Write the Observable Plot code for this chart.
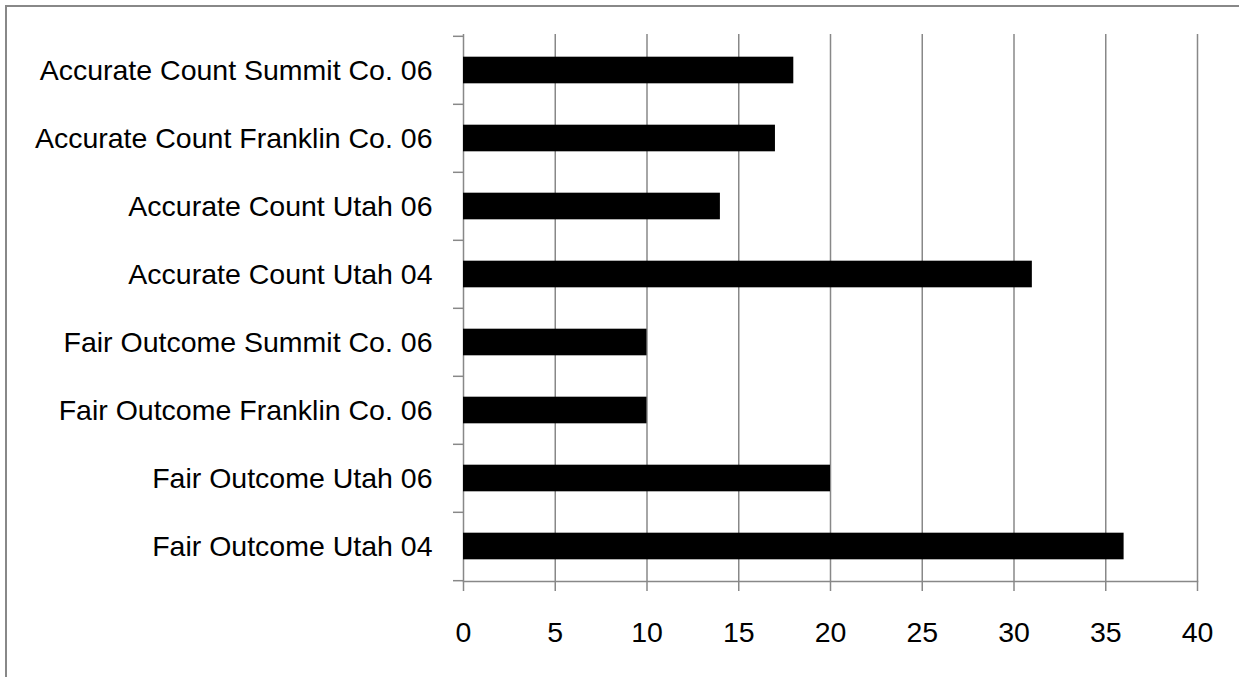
<!DOCTYPE html>
<html>
<head>
<meta charset="utf-8">
<script src="https://cdn.jsdelivr.net/npm/d3@7"></script>
<script src="https://cdn.jsdelivr.net/npm/@observablehq/plot@0.6"></script>
<style>
  html, body { margin: 0; padding: 0; background: #fff; }
  #wrap { position: relative; width: 1239px; height: 677px; overflow: hidden; }
  #border { position: absolute; left: 5px; top: 5px; right: -10px; bottom: -10px;
            border-left: 2px solid #888; border-top: 2px solid #888; pointer-events: none; }
  svg { display: block; }
</style>
</head>
<body>
<div id="wrap"><div id="border"></div></div>
<script>
const categories = [
  "Accurate Count Summit Co. 06",
  "Accurate Count Franklin Co. 06",
  "Accurate Count Utah 06",
  "Accurate Count Utah 04",
  "Fair Outcome Summit Co. 06",
  "Fair Outcome Franklin Co. 06",
  "Fair Outcome Utah 06",
  "Fair Outcome Utah 04"
];
const values = [18, 17, 14, 31, 10, 10, 20, 36];
const xTicks = [0, 5, 10, 15, 20, 25, 30, 35, 40];

const data = categories.map((c, i) => ({category: c, value: values[i]}));

const W = 1239, H = 677;
const mt = 34, mb = 96, ml = 463, mr = 42;
const bw = (H - mt - mb) / categories.length;
const inset = (bw - 27) / 2;
const grey = "#888";
const fs = 28.5;

const chart = Plot.plot({
  width: W,
  height: H,
  marginTop: mt,
  marginBottom: mb,
  marginLeft: ml,
  marginRight: mr,
  style: {fontFamily: "'Liberation Sans', Arial, sans-serif", fontSize: fs + "px", color: "#000", background: "transparent"},
  x: {domain: [0, 40], ticks: xTicks},
  y: {domain: categories, padding: 0},
  marks: [
    Plot.ruleX(xTicks, {stroke: grey, strokeWidth: 1.5}),
    Plot.barX(data, {x: "value", y: "category", fill: "black", insetTop: inset, insetBottom: inset}),
    Plot.frame({anchor: "bottom", stroke: grey, strokeWidth: 1.5}),
    Plot.axisY({tickSize: 0, tickPadding: 31, fontSize: fs, label: null, fill: "#000"}),
    Plot.axisY({tickSize: 10, tickFormat: () => "", label: null, dy: -bw / 2, stroke: grey, strokeWidth: 1.5}),
    Plot.axisY([categories[categories.length - 1]], {tickSize: 10, tickFormat: () => "", label: null, dy: bw / 2, stroke: grey, strokeWidth: 1.5}),
    Plot.axisX(xTicks, {tickSize: 10, tickPadding: 30, fontSize: fs, label: null, stroke: grey, strokeWidth: 1.5, fill: "#000"})
  ]
});
document.getElementById("wrap").prepend(chart);
</script>
</body>
</html>
